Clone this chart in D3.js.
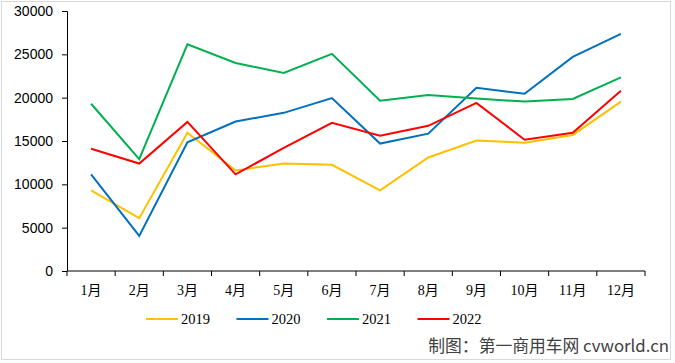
<!DOCTYPE html>
<html>
<head>
<meta charset="utf-8">
<script src="https://cdn.jsdelivr.net/npm/d3@7"></script>
<style>
  body { margin: 0; background: #fff; }
  .yaxis text { font-family: 'Liberation Sans', Arial, sans-serif; font-size: 14px; fill: #000; }
  .xaxis text { font-family: 'Liberation Serif', 'Noto Sans CJK SC', serif; font-size: 14px; fill: #000; }
</style>
</head>
<body>
<div id="chart"></div>
<script>
const months = ['1月', '2月', '3月', '4月', '5月', '6月', '7月', '8月', '9月', '10月', '11月', '12月']
const years = ['2019', '2020', '2021', '2022']
const colors = ['#FFC000', '#0070C0', '#00B050', '#FF0000']

const v2019 = [9300, 6100, 15950, 11600, 12400, 12250, 9300, 13100, 15050, 14800, 15700, 19550]
const v2020 = [11150, 4050, 14850, 17250, 18250, 19950, 14700, 15850, 21150, 20450, 24700, 27350]
const v2021 = [19300, 12900, 26150, 24000, 22850, 25050, 19650, 20300, 19900, 19550, 19850, 22350]
const v2022 = [14100, 12400, 17200, 11150, 14200, 17100, 15600, 16750, 19400, 15150, 15950, 20800]
const series = [v2019, v2020, v2021, v2022]

const yTicks = [0, 5000, 10000, 15000, 20000, 25000, 30000]

const margin = { top: 11, right: 30, bottom: 92, left: 67 }
const W = 675, H = 363
const width = W - margin.left - margin.right
const height = H - margin.top - margin.bottom

const svg = d3.select('#chart')
  .append('svg')
    .attr('width', W)
    .attr('height', H)

svg.append('rect')
  .attr('x', 1.5).attr('y', 1.5)
  .attr('width', 669).attr('height', 358)
  .attr('fill', 'none')
  .attr('stroke', '#d9d9d9')

const g = svg.append('g')
  .attr('transform', `translate(${margin.left}, ${margin.top})`)

const x = d3.scaleBand()
  .domain(months)
  .range([0, width])

const y = d3.scaleLinear()
  .domain([0, 30000])
  .range([height, 0])

// x axis with ticks at band edges
const xAxis = g.append('g')
  .attr('class', 'xaxis')
  .attr('transform', `translate(0, ${height})`)
xAxis.append('line')
  .attr('x1', 0).attr('x2', width)
  .attr('stroke', '#000')
xAxis.selectAll('.edge')
  .data(d3.range(months.length + 1))
  .enter()
  .append('line')
    .attr('x1', i => i * x.step())
    .attr('x2', i => i * x.step())
    .attr('y1', 0).attr('y2', 5)
    .attr('stroke', '#000')
xAxis.selectAll('text')
  .data(months)
  .enter()
  .append('text')
    .attr('x', d => x(d) + x.bandwidth() / 2)
    .attr('y', 24)
    .attr('text-anchor', 'middle')
    .text(d => d)

const yAxis = g.append('g')
  .attr('class', 'yaxis')
  .call(d3.axisLeft(y).tickValues(yTicks).tickSize(5).tickPadding(9).tickFormat(d3.format('d')))
yAxis.select('.domain').attr('d', `M-5,0.5H0.5V${height}`)
yAxis.selectAll('line').attr('stroke', '#000')

const line = d3.line()
  .x((d, i) => x(months[i]) + x.bandwidth() / 2)
  .y(d => y(d))

g.selectAll('.series')
  .data(series)
  .enter()
  .append('path')
    .attr('d', line)
    .attr('fill', 'none')
    .attr('stroke', (d, i) => colors[i])
    .attr('stroke-width', 2)

// legend
const legend = svg.append('g')
  .attr('transform', 'translate(146, 319)')
const item = legend.selectAll('g')
  .data(years)
  .enter()
  .append('g')
    .attr('transform', (d, i) => `translate(${i * 90.5}, 0)`)
item.append('line')
  .attr('x1', 0).attr('x2', 32)
  .attr('stroke', (d, i) => colors[i])
  .attr('stroke-width', 2)
item.append('text')
  .attr('x', 35)
  .attr('y', 5)
  .style('font-family', "'Liberation Serif', serif")
  .style('font-size', '14.5px')
  .text(d => d)

svg.append('text')
  .attr('x', 669)
  .attr('y', 352)
  .attr('text-anchor', 'end')
  .style('font-family', "'Noto Sans CJK SC', sans-serif")
  .style('font-size', '16.8px')
  .style('fill', '#404040')
  .text('制图：第一商用车网 cvworld.cn')
</script>
</body>
</html>
